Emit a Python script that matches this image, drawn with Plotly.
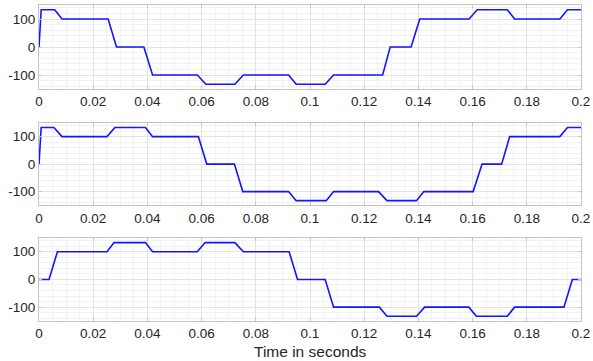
import plotly.graph_objects as go

# Phase waveforms (piecewise breakpoints)
t_a = [0, 0.0008, 0.0058, 0.0085, 0.0255, 0.0286, 0.0387, 0.0419, 0.0584, 0.0616,
       0.0723, 0.0754, 0.0921, 0.0949, 0.1056, 0.1087, 0.1268, 0.1296, 0.1373, 0.1405,
       0.1587, 0.1617, 0.1728, 0.1755, 0.1922, 0.1950, 0.2]
v_a = [0, 133, 133, 100, 100, 0, 0, -100, -100, -133, -133, -100, -100, -133, -133,
       -100, -100, 0, 0, 100, 100, 133, 133, 100, 100, 133, 133]

t_b = [0, 0.0008, 0.0055, 0.0085, 0.0251, 0.0280, 0.0393, 0.0419, 0.0588, 0.0619,
       0.0721, 0.0752, 0.0921, 0.0949, 0.1060, 0.1087, 0.1253, 0.1284, 0.1393, 0.1420,
       0.1602, 0.1635, 0.1707, 0.1737, 0.1922, 0.1950, 0.2]
v_b = [0, 133, 133, 100, 100, 133, 133, 100, 100, 0, 0, -100, -100, -133, -133,
       -100, -100, -133, -133, -100, -100, 0, 0, 100, 100, 133, 133]

t_c = [0, 0.0037, 0.0068, 0.0251, 0.0277, 0.0393, 0.0419, 0.0584, 0.0613, 0.0723,
       0.0754, 0.0923, 0.0954, 0.1056, 0.1087, 0.1256, 0.1284, 0.1393, 0.1423, 0.1586,
       0.1614, 0.1728, 0.1755, 0.1937, 0.1968, 0.2]
v_c = [0, 0, 100, 100, 133, 133, 100, 100, 133, 133, 100, 100, 0, 0, -100, -100,
       -133, -133, -100, -100, -133, -133, -100, -100, 0, 0]

x_tickvals = [0, 0.02, 0.04, 0.06, 0.08, 0.1, 0.12, 0.14, 0.16, 0.18, 0.2]
x_ticktext = ["0", "0.02", "0.04", "0.06", "0.08", "0.1", "0.12", "0.14", "0.16", "0.18", "0.2"]
y_tickvals = [-100, 0, 100]
y_ticktext = ["-100", "0", "100"]
x_title = "Time in seconds"

series = [(t_a, v_a), (t_b, v_b), (t_c, v_c)]
domains = [[0.734, 1.0], [0.366, 0.627], [0.0, 0.263]]

fig = go.Figure()
font_family = "Liberation Sans, Arial, Helvetica, sans-serif"
frame = "#c4c4c4"
for i, (t, v) in enumerate(series):
    n = "" if i == 0 else str(i + 1)
    fig.add_trace(go.Scatter(x=t, y=v, mode="lines",
                             line=dict(color="#1414ff", width=1.6),
                             xaxis="x" + n, yaxis="y" + n, showlegend=False))
    xa = dict(domain=[0, 1], range=[0, 0.2], anchor="y" + n, automargin=False,
              tickvals=x_tickvals, ticktext=x_ticktext,
              showgrid=True, gridcolor="#e3e3e3", gridwidth=1,
              minor=dict(dtick=0.005, showgrid=True, gridcolor="#f2f2f2", ticks=""),
              showline=True, linecolor=frame, linewidth=1, mirror="allticks",
              ticks="inside", ticklen=3, tickcolor=frame,
              zeroline=False, tickfont=dict(size=13.5, color="#262626", family=font_family))
    ya = dict(domain=domains[i], range=[-150, 150], anchor="x" + n, automargin=False,
              tickvals=y_tickvals, ticktext=y_ticktext,
              showgrid=True, gridcolor="#e3e3e3", gridwidth=1,
              minor=dict(dtick=20, tick0=0, showgrid=True, gridcolor="#f2f2f2", ticks=""),
              showline=True, linecolor=frame, linewidth=1, mirror="allticks",
              ticks="inside", ticklen=3, tickcolor=frame,
              zeroline=False, tickfont=dict(size=13.5, color="#262626", family=font_family))
    fig.update_layout(**{"xaxis" + n: xa, "yaxis" + n: ya})

fig.add_annotation(text=x_title, xref="paper", yref="paper", x=0.5, y=-0.096,
                   xanchor="center", yanchor="middle", showarrow=False,
                   font=dict(size=15.5, color="#262626", family=font_family))

fig.update_layout(width=593, height=361,
                  margin=dict(l=39, r=12, t=5, b=40),
                  paper_bgcolor="white", plot_bgcolor="white",
                  font=dict(family=font_family, color="#262626"))

fig.write_html("out.html", config={"displayModeBar": False},
               post_script="document.body.style.margin='0';document.body.style.overflow='hidden';")
